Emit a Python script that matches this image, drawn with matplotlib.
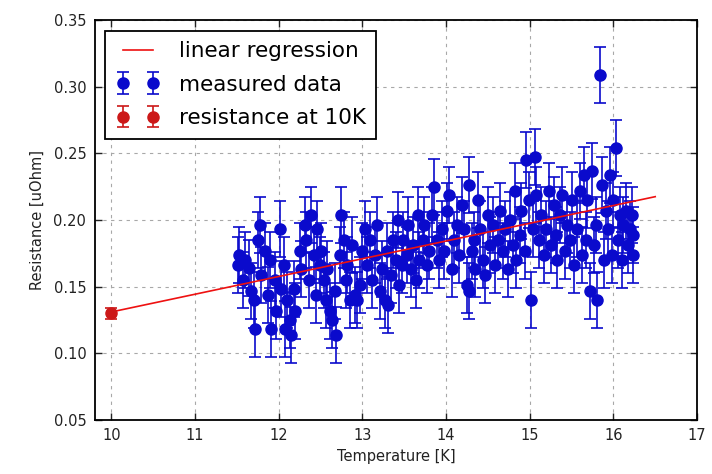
import matplotlib
matplotlib.use("Agg")
import matplotlib.pyplot as plt
import numpy as np

# measured data (temperature [K], resistance [uOhm])
temperature = [
    11.51, 11.53, 11.57, 11.60, 11.65, 11.67, 11.71, 11.72, 11.75, 11.77,
    11.79, 11.83, 11.87, 11.89, 11.91, 11.95, 11.97, 12.01, 12.03, 12.06,
    12.08, 12.10, 12.13, 12.15, 12.18, 12.20,
    12.25, 12.27, 12.31, 12.33, 12.36, 12.39, 12.42, 12.44, 12.46, 12.49,
    12.51, 12.54, 12.56, 12.58, 12.61, 12.64, 12.67, 12.69, 12.73, 12.75,
    12.78, 12.80, 12.82, 12.85, 12.87, 12.91, 12.94, 12.97,
    12.99, 13.03, 13.05, 13.09, 13.11, 13.15, 13.17, 13.21, 13.23, 13.27,
    13.29, 13.31, 13.34, 13.36, 13.40, 13.42, 13.44, 13.47, 13.49, 13.53,
    13.55, 13.58, 13.61, 13.64, 13.66, 13.68, 13.72, 13.74, 13.77, 13.80,
    13.83, 13.85, 13.89,
    13.92, 13.95, 13.98, 14.01, 14.04, 14.07, 14.10, 14.13, 14.16, 14.19,
    14.21, 14.25, 14.27, 14.28, 14.31, 14.33, 14.35, 14.38, 14.40, 14.44,
    14.46, 14.50, 14.52, 14.56, 14.58, 14.62, 14.64, 14.68, 14.70, 14.74,
    14.76, 14.80, 14.82, 14.84, 14.88, 14.90, 14.94, 14.96, 14.99, 15.01,
    15.04, 15.06, 15.08, 15.11, 15.14, 15.17, 15.20, 15.23, 15.25, 15.29,
    15.31, 15.33, 15.36, 15.39, 15.42, 15.45, 15.48, 15.50, 15.53, 15.56,
    15.60, 15.62, 15.65, 15.67, 15.69, 15.72, 15.74, 15.77, 15.79, 15.81,
    15.84, 15.86, 15.89, 15.91, 15.93, 15.96, 15.98, 16.00, 16.03, 16.05,
    16.08, 16.10, 16.12, 16.15, 16.17, 16.20, 16.22, 16.24, 16.23,
]
resistance = [
    0.166, 0.174, 0.155, 0.170, 0.164, 0.147, 0.140, 0.118, 0.185, 0.196,
    0.159, 0.177, 0.144, 0.170, 0.118, 0.155, 0.132, 0.193, 0.148, 0.166,
    0.118, 0.140, 0.125, 0.114, 0.148, 0.132,
    0.177, 0.163, 0.196, 0.185, 0.155, 0.204, 0.174, 0.144, 0.193, 0.166,
    0.177, 0.155, 0.140, 0.163, 0.132, 0.125, 0.147, 0.114, 0.174, 0.204,
    0.185, 0.155, 0.166, 0.140, 0.181, 0.144, 0.140, 0.151,
    0.177, 0.193, 0.166, 0.185, 0.155, 0.174, 0.196, 0.147, 0.163, 0.140,
    0.177, 0.136, 0.159, 0.185, 0.170, 0.200, 0.151, 0.166, 0.185, 0.174,
    0.196, 0.163, 0.181, 0.155, 0.204, 0.170, 0.185, 0.196, 0.166, 0.177,
    0.204, 0.225, 0.185,
    0.170, 0.193, 0.177, 0.207, 0.219, 0.163, 0.185, 0.196, 0.174, 0.211,
    0.193, 0.151, 0.147, 0.226, 0.177, 0.185, 0.163, 0.215, 0.193, 0.170,
    0.159, 0.204, 0.181, 0.196, 0.166, 0.185, 0.207, 0.177, 0.193, 0.163,
    0.200, 0.181, 0.222, 0.170, 0.189, 0.207, 0.177, 0.245, 0.215, 0.140,
    0.193, 0.247, 0.219, 0.185, 0.204, 0.174, 0.193, 0.222, 0.181, 0.211,
    0.189, 0.170, 0.204, 0.219, 0.177, 0.196, 0.185, 0.215, 0.166, 0.193,
    0.222, 0.174, 0.234, 0.185, 0.215, 0.147, 0.237, 0.181, 0.196, 0.140,
    0.309, 0.226, 0.170, 0.207, 0.193, 0.234, 0.174, 0.215, 0.254, 0.185,
    0.204, 0.170, 0.196, 0.207, 0.181, 0.193, 0.204, 0.189, 0.174,
]
resistance_err = 0.021

# extrapolated value at 10 K
t10 = [10.0]
r10 = [0.130]
r10_err = [0.004]

# linear regression coefficients
reg_slope = 0.0133
reg_intercept = -0.002
reg_range = [10.0, 16.5]

blue = "#0a0acc"
red = "#cc1818"

fig = plt.figure(figsize=(7.12, 4.74), dpi=100, facecolor="white")
ax = fig.add_axes([0.133, 0.114, 0.846, 0.844])

reg_x = np.array(reg_range)
ax.plot(reg_x, reg_intercept + reg_slope * reg_x, color="#ee1111", lw=1.2,
        label="linear regression", zorder=3)
ax.errorbar(temperature, resistance, yerr=resistance_err, fmt="o",
            color=blue, ecolor=blue, mec=blue, ms=8,
            capsize=4, elinewidth=1.2, capthick=1.2, label="measured data",
            zorder=2)
ax.errorbar(t10, r10, yerr=r10_err, fmt="o", color=red, ecolor=red,
            mec=red, ms=8, capsize=4, elinewidth=1.2, capthick=1.2,
            label="resistance at 10K", zorder=4)

ax.set_xlim(9.8, 17)
ax.set_ylim(0.05, 0.35)
ax.set_xticks(range(10, 18))
ax.set_yticks([0.05, 0.10, 0.15, 0.20, 0.25, 0.30, 0.35])
ax.set_yticklabels(["0.05", "0.10", "0.15", "0.20", "0.25", "0.30", "0.35"])
ax.tick_params(direction="in", length=5, width=1, top=True, right=True,
               labelsize=10.5, colors="#222222", pad=6)
for s in ax.spines.values():
    s.set_linewidth(1.3)
ax.grid(True, color="#a8a8a8", linestyle=(0, (3, 4)), lw=0.8)
ax.set_xlabel("Temperature [K]", fontsize=10.5, color="#222222", labelpad=4)
ax.set_ylabel("Resistance [uOhm]", fontsize=10.5, color="#222222", labelpad=6)

leg = ax.legend(loc="upper left", numpoints=2, fontsize=15.5, fancybox=False,
                framealpha=1, edgecolor="black", handlelength=2.0,
                borderaxespad=0.5, labelspacing=0.62, handletextpad=0.9,
                borderpad=0.5)
leg.get_frame().set_linewidth(1.3)

fig.savefig("out.png", dpi=100, facecolor="white")
